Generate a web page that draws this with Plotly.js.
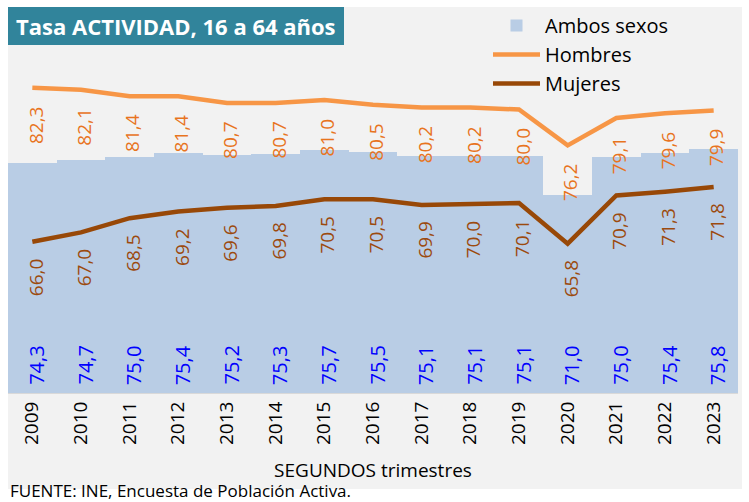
<!DOCTYPE html>
<html>
<head>
<meta charset="utf-8">
<script src="https://cdn.plot.ly/plotly-3.0.1.min.js"></script>
<style>html,body{margin:0;padding:0;background:#fff;}#chart{width:749px;height:502px;}</style>
</head>
<body>
<div id="chart"></div>
<script>
const years = ['2009','2010','2011','2012','2013','2014','2015','2016','2017','2018','2019','2020','2021','2022','2023'];
const ambos = [74.3,74.7,75.0,75.4,75.2,75.3,75.7,75.5,75.1,75.1,75.1,71.0,75.0,75.4,75.8];
const hombres = [82.3,82.1,81.4,81.4,80.7,80.7,81.0,80.5,80.2,80.2,80.0,76.2,79.1,79.6,79.9];
const mujeres = [66.0,67.0,68.5,69.2,69.6,69.8,70.5,70.5,69.9,70.0,70.1,65.8,70.9,71.3,71.8];

const FONT = 'Open Sans, Noto Sans, sans-serif';
const fmt = v => v.toFixed(1).replace('.', ',');
const Y_MIN = 50, Y_MAX = 90;

const traces = [
  {type:'bar', name:'Ambos sexos', x:years, y:ambos,
   marker:{color:'#b9cde5'}, hoverinfo:'skip'},
  {type:'scatter', mode:'lines', name:'Hombres', x:years, y:hombres,
   line:{color:'#f79646', width:4.5}},
  {type:'scatter', mode:'lines', name:'Mujeres', x:years, y:mujeres,
   line:{color:'#984807', width:4.5}}
];

const px = p => (p - 8) / 730;
const py = p => (393 - p) / 378;

const annotations = [];
years.forEach((yr, i) => {
  annotations.push({x:i, y:hombres[i], xref:'x', yref:'y', text:fmt(hombres[i]),
    showarrow:false, textangle:-90, xanchor:'center', yanchor:'top', yshift:-16, xshift:3,
    font:{color:'#e8741e', size:19, family:FONT}});
  annotations.push({x:i, y:mujeres[i], xref:'x', yref:'y', text:fmt(mujeres[i]),
    showarrow:false, textangle:-90, xanchor:'center', yanchor:'top', yshift:-14, xshift:3,
    font:{color:'#9c4a0e', size:19, family:FONT}});
  annotations.push({x:i, y:Y_MIN, xref:'x', yref:'y', text:fmt(ambos[i]),
    showarrow:false, textangle:-90, xanchor:'center', yanchor:'bottom', yshift:6, xshift:4,
    font:{color:'#0000ff', size:20, family:FONT}});
});
annotations.push({x:px(176), y:py(26), xref:'paper', yref:'paper', text:'<b>Tasa ACTIVIDAD, 16 a 64 años</b>',
  showarrow:false, xanchor:'center', yanchor:'middle', font:{color:'#ffffff', size:22, family:FONT}});
annotations.push({x:px(8), y:py(490), xref:'paper', yref:'paper', text:'FUENTE: INE, Encuesta de Población Activa.',
  showarrow:false, xanchor:'left', yanchor:'middle', font:{color:'#000000', size:17, family:FONT}});

const layout = {
  width:749, height:502,
  margin:{l:8, r:11, t:15, b:109, autoexpand:false},
  paper_bgcolor:'#ffffff', plot_bgcolor:'rgba(0,0,0,0)',
  separators:',.',
  bargap:0,
  showlegend:true,
  legend:{x:px(488), y:py(6), xanchor:'left', yanchor:'top', bgcolor:'rgba(0,0,0,0)',
    itemwidth:47,
    font:{size:20, color:'#000', family:FONT}, tracegroupgap:0, traceorder:'normal'},
  xaxis:{type:'category', range:[-0.5, 14.5], tickangle:-90, showline:true, linecolor:'#d9d9d9', linewidth:1,
    ticks:'', showgrid:false, zeroline:false,
    tickfont:{size:19, color:'#000', family:FONT},
    title:{text:'SEGUNDOS trimestres', standoff:19, font:{size:19, color:'#000', family:FONT}}},
  yaxis:{range:[Y_MIN, Y_MAX], visible:false, showgrid:false, zeroline:false},
  shapes:[
    {type:'rect', xref:'paper', yref:'paper', x0:px(8), x1:px(742), y0:py(489), y1:py(7),
     fillcolor:'#f2f2f2', line:{width:0}, layer:'below'},
    {type:'rect', xref:'paper', yref:'paper', x0:px(8), x1:px(344), y0:py(45), y1:py(7),
     fillcolor:'#31849b', line:{width:0}, layer:'above'}
  ],
  annotations:annotations
};

Plotly.newPlot('chart', traces, layout, {displayModeBar:false, staticPlot:true});
</script>
</body>
</html>
